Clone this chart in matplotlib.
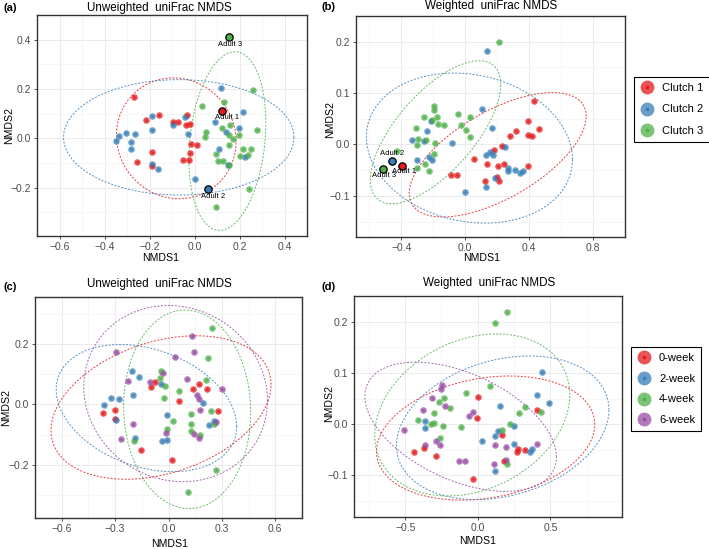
import matplotlib
matplotlib.use("Agg")
import matplotlib.pyplot as plt
import numpy as np
from matplotlib.lines import Line2D

plt.rcParams["font.family"] = ["Liberation Sans", "DejaVu Sans"]

RED = "#E41A1C"
BLUE = "#377EB8"
GREEN = "#4DAF4A"
PURPLE = "#984EA3"
GRID = "#EBEBEB"
TICK = "#4D4D4D"

# ---- panel (a): unweighted, clutch ----
A_C1_X = [-0.268, -0.216, -0.157, -0.096, -0.072, -0.032, -0.039, -0.018, -0.191, -0.254,
          -0.191, -0.016, 0.012, -0.018, -0.025, -0.049]
A_C1_Y = [0.168, 0.074, 0.096, 0.065, 0.067, 0.096, 0.053, 0.059, -0.054, -0.096,
          -0.114, -0.023, -0.026, -0.060, -0.089, -0.089]
A_C2_X = [-0.347, -0.337, -0.304, -0.265, -0.284, -0.284, -0.191, -0.188, -0.187, -0.162,
          -0.096, -0.043, -0.031, 0.000, 0.117, 0.090, 0.141, 0.109, 0.148, 0.199, 0.216, 0.224]
A_C2_Y = [-0.009, 0.009, 0.023, 0.018, -0.014, -0.044, 0.091, 0.033, -0.106, -0.126,
          0.056, 0.085, 0.018, -0.165, 0.204, 0.065, 0.026, -0.042, -0.109, 0.041, 0.108, -0.077]
A_C3_X = [0.032, 0.133, 0.262, 0.052, 0.047, 0.120, 0.158, 0.153, 0.170, 0.196, 0.277,
          0.152, 0.097, 0.104, 0.126, 0.152, 0.201, 0.216, 0.250, 0.237, 0.243, 0.095]
A_C3_Y = [0.131, 0.149, 0.194, 0.024, 0.005, 0.040, 0.053, 0.014, -0.001, 0.014, 0.032,
          -0.029, -0.063, -0.092, -0.091, -0.109, -0.071, -0.042, -0.042, -0.068, -0.204, -0.279]
A_ADULT_X = [0.124, 0.058, 0.153]
A_ADULT_Y = [0.110, -0.206, 0.412]

# ---- panel (b): weighted, clutch ----
B_C1_X = [0.428, 0.393, 0.464, 0.394, 0.417, 0.318, 0.280, 0.228, 0.178, 0.052, 0.136,
          0.204, 0.245, 0.393, -0.090, -0.050, 0.121, 0.200, 0.211]
B_C1_Y = [0.084, 0.045, 0.030, 0.019, 0.016, 0.026, 0.016, -0.002, -0.011, -0.028, -0.037,
          -0.042, -0.037, -0.042, -0.060, -0.060, -0.071, -0.064, -0.072]
B_C2_X = [0.136, 0.105, 0.166, -0.336, -0.260, -0.237, -0.215, -0.080, -0.299, -0.230,
          -0.207, 0.250, 0.131, 0.155, 0.174, 0.269, 0.265, 0.312, 0.340, 0.359, 0.189,
          0.131, -0.004]
B_C2_Y = [0.182, 0.070, 0.032, 0.009, 0.006, 0.026, 0.046, 0.002, -0.030, -0.025,
          -0.031, -0.004, -0.021, -0.014, -0.020, -0.046, -0.052, -0.050, -0.056, -0.052,
          -0.066, -0.083, -0.093]
B_C3_X = [0.209, -0.193, -0.196, -0.256, -0.176, -0.206, -0.136, -0.172, -0.308, -0.297,
          -0.299, -0.243, -0.187, -0.198, -0.252, -0.230, -0.305, -0.426, -0.045, 0.032,
          -0.028, 0.004, 0.028]
B_C3_Y = [0.199, 0.075, 0.067, 0.053, 0.053, 0.047, 0.037, 0.039, 0.032, 0.011,
          -0.001, 0.009, 0.003, -0.018, -0.038, -0.051, -0.045, -0.013, 0.060, 0.054,
          0.038, 0.029, 0.015]
B_ADULT_X = [-0.393, -0.458, -0.514]
B_ADULT_Y = [-0.041, -0.032, -0.048]

# ---- panel (c): unweighted, week ----
C_W0_X = [-0.370, -0.299, -0.299, -0.157, -0.101, -0.077, 0.019, 0.057, 0.135, 0.172, 0.216, 0.280]
C_W0_Y = [-0.028, -0.019, -0.048, -0.151, 0.058, 0.075, -0.183, 0.012, 0.051, 0.067, 0.051, -0.021]
C_W2_X = [-0.362, -0.324, -0.279, -0.295, -0.203, -0.164, -0.198, -0.191, -0.036, -0.011,
          -0.009, -0.040, 0.194, 0.228, 0.253]
C_W2_Y = [-0.001, 0.022, 0.019, -0.051, 0.111, 0.091, 0.031, -0.111, -0.120, -0.118,
          -0.036, 0.067, 0.006, -0.068, -0.055]
C_W4_X = [0.245, 0.224, 0.211, -0.043, -0.048, -0.020, -0.025, -0.195, -0.011, 0.023,
          0.061, 0.124, 0.124, 0.124, 0.177, 0.241, 0.255, 0.268, 0.110]
C_W4_Y = [0.253, 0.152, 0.080, 0.109, 0.086, 0.061, 0.023, -0.122, -0.082, -0.054,
          0.043, -0.030, -0.066, -0.087, -0.102, -0.023, -0.063, -0.215, -0.288]
C_W6_X = [-0.294, -0.227, -0.198, -0.268, -0.104, -0.031, -0.013, 0.034, 0.130, 0.141,
          0.103, 0.160, 0.170, 0.175, 0.144, 0.172, 0.268, 0.301]
C_W6_Y = [0.173, 0.079, -0.065, -0.113, 0.073, 0.105, -0.093, 0.156, 0.225, 0.174,
          0.084, 0.031, 0.018, -0.017, -0.096, -0.110, -0.057, 0.051]

# ---- panel (d): weighted, week ----
D_W0_X = [0.005, -0.002, 0.406, 0.168, -0.439, -0.374, -0.291, 0.277, 0.272, 0.323, 0.184, -0.034]
D_W0_Y = [0.054, 0.012, 0.027, -0.022, -0.054, -0.047, -0.062, -0.049, -0.054, -0.051, -0.072, -0.106]
D_W2_X = [0.445, 0.408, 0.488, 0.156, -0.365, -0.366, 0.250, 0.142, 0.116, 0.027, 0.248,
          0.358, 0.371, 0.119]
D_W2_Y = [0.101, 0.056, 0.041, 0.035, 0.006, -0.007, -0.003, -0.013, -0.023, -0.033, -0.039,
          -0.055, -0.049, -0.092]
D_W4_X = [0.199, 0.121, 0.083, -0.082, 0.326, 0.282, 0.436, -0.232, -0.268, -0.188, -0.300,
          -0.409, -0.319, -0.300, -0.239, -0.258, -0.119, 0.170, 0.225, 0.204]
D_W4_Y = [0.219, 0.198, 0.075, 0.060, 0.033, 0.021, 0.024, 0.052, 0.044, 0.032, 0.022,
          0.008, 0.000, 0.003, -0.003, -0.027, -0.005, -0.011, 0.000, -0.078]
D_W6_X = [-0.246, -0.250, -0.317, -0.376, -0.225, -0.507, -0.291, -0.262, -0.366, -0.030,
          -0.062, -0.131, -0.086, 0.121, 0.197, 0.409, 0.114, 0.194]
D_W6_Y = [0.076, 0.069, 0.052, 0.028, 0.036, -0.012, -0.033, -0.040, -0.040, 0.024,
          0.016, -0.071, -0.071, -0.041, -0.044, -0.039, -0.078, -0.069]

# ellipses: centre x, centre y, half-range x, half-range y, correlation
A_ELL = [(-0.081, 0.000, 0.266, 0.245, -0.05), (-0.070, 0.004, 0.512, 0.234, 0.0),
         (0.146, -0.011, 0.171, 0.362, 0.2)]
B_ELL = [(0.203, -0.020, 0.554, 0.121, 0.62), (0.026, -0.007, 0.645, 0.146, -0.15),
         (-0.186, 0.024, 0.408, 0.139, 0.67)]
C_ELL = [(-0.042, -0.010, 0.618, 0.237, 0.32), (-0.124, -0.012, 0.507, 0.210, -0.29),
         (0.105, -0.016, 0.357, 0.328, -0.03), (0.040, 0.036, 0.516, 0.291, -0.08)]
D_ELL = [(0.054, -0.027, 0.752, 0.121, 0.22), (0.172, -0.007, 0.732, 0.140, 0.25),
         (-0.038, 0.018, 0.672, 0.158, 0.25), (-0.118, -0.005, 0.660, 0.126, -0.47)]

CLUTCH_LABELS = ["Clutch 1", "Clutch 2", "Clutch 3"]
WEEK_LABELS = ["0-week", "2-week", "4-week", "6-week"]
ADULT_LABELS = ["Adult 1", "Adult 2", "Adult 3"]

W, H = 709, 549
fig = plt.figure(figsize=(W / 100, H / 100), dpi=100)


def px_axes(x0, y0, x1, y1):
    return fig.add_axes([x0 / W, 1 - y1 / H, (x1 - x0) / W, (y1 - y0) / H])


def style(ax, xlim, ylim, xt, yt):
    ax.set_xlim(xlim)
    ax.set_ylim(ylim)
    ax.set_xticks(xt)
    ax.set_yticks(yt)
    ax.set_xticklabels([f"{v:.1f}".replace("-", "\u2212") for v in xt])
    ax.set_yticklabels([f"{v:.1f}".replace("-", "\u2212") for v in yt])
    sx = xt[1] - xt[0]
    sy = yt[1] - yt[0]
    ax.set_xticks([xt[0] - sx / 2] + [v + sx / 2 for v in xt], minor=True)
    ax.set_yticks([yt[0] - sy / 2] + [v + sy / 2 for v in yt], minor=True)
    ax.tick_params(which="minor", length=0)
    ax.tick_params(which="major", length=2.5, width=0.6, color="#333333",
                   labelsize=7.5, labelcolor=TICK, pad=2)
    ax.grid(True, which="major", color=GRID, lw=0.7)
    ax.grid(True, which="minor", color="#F3F3F3", lw=0.5)
    ax.set_axisbelow(True)
    for s in ax.spines.values():
        s.set_color("#333333")
        s.set_linewidth(1.0)


def ellipse(ax, params, color):
    cx, cy, rx, ry, rho = params
    cov = np.array([[rx * rx, rho * rx * ry], [rho * rx * ry, ry * ry]])
    L = np.linalg.cholesky(cov)
    t = np.linspace(0, 2 * np.pi, 300)
    pts = L @ np.vstack([np.cos(t), np.sin(t)])
    ax.plot(cx + pts[0], cy + pts[1], color=color, lw=0.7, alpha=0.85,
            dashes=(2, 1.6), zorder=2)


def points(ax, xs, ys, color):
    ax.scatter(xs, ys, s=22, color=color, alpha=0.75, linewidths=0, zorder=3)
    ax.scatter(xs, ys, s=3, color=color, alpha=0.9, linewidths=0, zorder=4)


def adults(ax, xs, ys, colors, offsets):
    for x, y, c, lab, (dx, dy) in zip(xs, ys, colors, ADULT_LABELS, offsets):
        ax.scatter([x], [y], s=28, color=c, edgecolors="black", linewidths=0.9, zorder=5)
        ax.annotate(lab, (x, y), xytext=(dx, dy), textcoords="offset points",
                    ha="center", va="center", fontsize=5.5, color="black", zorder=6)


# (a)
ax = px_axes(37, 15, 307, 236)
style(ax, (-0.629, 0.491), (-0.396, 0.454), [-0.6, -0.4, -0.2, 0.0, 0.2, 0.4],
      [-0.2, 0.0, 0.2, 0.4])
for e, c in zip(A_ELL, [RED, BLUE, GREEN]):
    ellipse(ax, e, c)
points(ax, A_C1_X, A_C1_Y, RED)
points(ax, A_C2_X, A_C2_Y, BLUE)
points(ax, A_C3_X, A_C3_Y, GREEN)
adults(ax, A_ADULT_X, A_ADULT_Y, [RED, BLUE, GREEN], [(3, -4.5), (4, -5.5), (1, -5.5)])

# (b)
ax = px_axes(356, 16, 625, 237)
style(ax, (-0.684, 0.825), (-0.18, 0.218), [-0.4, 0.0, 0.4, 0.8],
      [-0.1, 0.0, 0.1, 0.2])
for e, c in zip(B_ELL, [RED, BLUE, GREEN]):
    ellipse(ax, e, c)
points(ax, B_C1_X, B_C1_Y, RED)
points(ax, B_C2_X, B_C2_Y, BLUE)
points(ax, B_C3_X, B_C3_Y, GREEN)
adults(ax, B_ADULT_X, B_ADULT_Y, [RED, BLUE, GREEN], [(1, -4), (0, 5.5), (1, -4.5)])

# (c)
ax = px_axes(35, 297, 302, 518)
style(ax, (-0.716, 0.633), (-0.375, 0.355), [-0.6, -0.3, 0.0, 0.3, 0.6],
      [-0.2, 0.0, 0.2])
for e, c in zip(C_ELL, [RED, BLUE, GREEN, PURPLE]):
    ellipse(ax, e, c)
points(ax, C_W0_X, C_W0_Y, RED)
points(ax, C_W2_X, C_W2_Y, BLUE)
points(ax, C_W4_X, C_W4_Y, GREEN)
points(ax, C_W6_X, C_W6_Y, PURPLE)

# (d)
ax = px_axes(354, 296, 622, 517)
style(ax, (-0.853, 0.994), (-0.181, 0.237), [-0.5, 0.0, 0.5],
      [-0.1, 0.0, 0.1, 0.2])
for e, c in zip(D_ELL, [RED, BLUE, GREEN, PURPLE]):
    ellipse(ax, e, c)
points(ax, D_W0_X, D_W0_Y, RED)
points(ax, D_W2_X, D_W2_Y, BLUE)
points(ax, D_W4_X, D_W4_Y, GREEN)
points(ax, D_W6_X, D_W6_Y, PURPLE)


def fx(x):
    return x / W


def fy(y):
    return 1 - y / H


# titles, panel letters, axis titles
for x, y, s in [(159, 8, "Unweighted  uniFrac NMDS"), (491, 6, "Weighted  uniFrac NMDS"),
                (159, 284, "Unweighted  uniFrac NMDS"), (489, 283, "Weighted  uniFrac NMDS")]:
    fig.text(fx(x), fy(y), s, ha="center", va="center", fontsize=8.4)
for x, y, s in [(4, 8, "(a)"), (322, 7, "(b)"), (3, 287, "(c)"), (322, 287, "(d)")]:
    fig.text(fx(x), fy(y), s, ha="left", va="center", fontsize=8, fontweight="bold")
for x, y in [(161, 258), (482, 258), (170, 544), (478, 541)]:
    fig.text(fx(x), fy(y), "NMDS1", ha="center", va="center", fontsize=7.6)
for x, y in [(9, 125), (330, 120), (6, 407), (329, 403)]:
    fig.text(fx(x), fy(y), "NMDS2", ha="center", va="center", fontsize=7.6, rotation=90)


def key(c):
    big = Line2D([], [], ls="", marker="o", ms=10, color=c, alpha=0.75, mec="none")
    dot = Line2D([], [], ls="", marker="o", ms=2.6, color=c, mec="none")
    return (big, dot)


for handles, labels, x0, y0, sp in [
        ([key(c) for c in [RED, BLUE, GREEN]], CLUTCH_LABELS, 634, 77, 1.0),
        ([key(c) for c in [RED, BLUE, GREEN, PURPLE]], WEEK_LABELS, 631, 347, 0.95)]:
    leg = fig.legend(handles, labels, loc="upper left", bbox_to_anchor=(fx(x0), fy(y0)),
                     borderaxespad=0, frameon=True, fontsize=8, handletextpad=0.75,
                     borderpad=0.57, labelspacing=sp, handlelength=1.2,
                     fancybox=False, framealpha=1)
    leg.get_frame().set_edgecolor("black")
    leg.get_frame().set_linewidth(0.8)

fig.savefig("out.png", dpi=100)
